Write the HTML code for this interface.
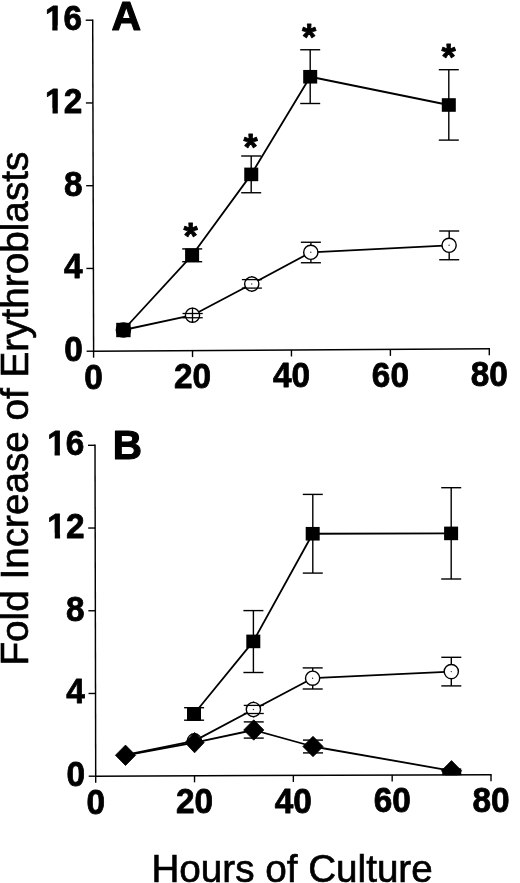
<!DOCTYPE html>
<html lang="en"><head><meta charset="utf-8"><title>Fold Increase of Erythroblasts vs Hours of Culture</title>
<style>html,body{margin:0;padding:0;background:#fff;}body{width:520px;height:883px;overflow:hidden;}svg{display:block;}text{font-family:'Liberation Sans', Arial, Helvetica, sans-serif;fill:#000;}.b{font-weight:bold;stroke:#000;stroke-width:0.8px;stroke-linejoin:round;}</style></head><body>
<svg width="520" height="883" viewBox="0 0 520 883">
<rect width="520" height="883" fill="#fff"/>
<line x1="92.70" y1="19.50" x2="93.60" y2="351.90" stroke="#000" stroke-width="1.45" />
<line x1="92.90" y1="351.20" x2="490.00" y2="348.80" stroke="#000" stroke-width="1.45" />
<line x1="86.60" y1="351.20" x2="93.60" y2="351.20" stroke="#000" stroke-width="1.40" />
<line x1="86.38" y1="268.45" x2="93.38" y2="268.45" stroke="#000" stroke-width="1.40" />
<line x1="86.15" y1="185.70" x2="93.15" y2="185.70" stroke="#000" stroke-width="1.40" />
<line x1="85.92" y1="102.95" x2="92.92" y2="102.95" stroke="#000" stroke-width="1.40" />
<line x1="85.70" y1="20.20" x2="92.70" y2="20.20" stroke="#000" stroke-width="1.40" />
<line x1="93.60" y1="351.20" x2="93.60" y2="357.70" stroke="#000" stroke-width="1.40" />
<line x1="192.53" y1="350.60" x2="192.53" y2="357.10" stroke="#000" stroke-width="1.40" />
<line x1="291.45" y1="350.00" x2="291.45" y2="356.50" stroke="#000" stroke-width="1.40" />
<line x1="390.38" y1="349.40" x2="390.38" y2="355.90" stroke="#000" stroke-width="1.40" />
<line x1="489.30" y1="348.80" x2="489.30" y2="355.30" stroke="#000" stroke-width="1.40" />
<text class="b" transform="translate(82.90,361.20) scale(0.970,1)" font-size="34.4" text-anchor="end">0</text>
<text class="b" transform="translate(82.67,278.45) scale(0.970,1)" font-size="34.4" text-anchor="end">4</text>
<text class="b" transform="translate(82.45,195.70) scale(0.970,1)" font-size="34.4" text-anchor="end">8</text>
<text class="b" transform="translate(82.22,112.95) scale(0.970,1)" font-size="34.4" text-anchor="end">12</text>
<rect x="45.44" y="108.23" width="7.07" height="6.72" fill="#fff"/>
<rect x="57.82" y="108.23" width="6.34" height="6.72" fill="#fff"/>
<text class="b" transform="translate(82.00,30.20) scale(0.970,1)" font-size="34.4" text-anchor="end">16</text>
<rect x="45.22" y="25.48" width="7.07" height="6.72" fill="#fff"/>
<rect x="57.59" y="25.48" width="6.34" height="6.72" fill="#fff"/>
<text class="b" transform="translate(93.60,388.60) scale(0.970,1)" font-size="34.4" text-anchor="middle">0</text>
<text class="b" transform="translate(192.53,388.00) scale(0.970,1)" font-size="34.4" text-anchor="middle">20</text>
<text class="b" transform="translate(291.45,387.40) scale(0.970,1)" font-size="34.4" text-anchor="middle">40</text>
<text class="b" transform="translate(390.38,386.80) scale(0.970,1)" font-size="34.4" text-anchor="middle">60</text>
<text class="b" transform="translate(489.30,386.20) scale(0.970,1)" font-size="34.4" text-anchor="middle">80</text>
<text class="b" x="111.5" y="30.3" font-size="41" style="stroke-width:1.1px">A</text>
<polyline points="123.40,330.00 192.10,255.30 251.25,174.40 310.20,76.75 448.80,105.00" fill="none" stroke="#000" stroke-width="1.80" stroke-linejoin="round"/>
<polyline points="123.40,330.00 192.50,315.20 251.75,284.00 310.80,252.30 449.10,245.30" fill="none" stroke="#000" stroke-width="1.80" stroke-linejoin="round"/>
<line x1="182.20" y1="248.90" x2="202.20" y2="248.90" stroke="#000" stroke-width="1.40" />
<line x1="182.20" y1="261.70" x2="202.20" y2="261.70" stroke="#000" stroke-width="1.40" />
<line x1="251.20" y1="156.00" x2="251.20" y2="192.75" stroke="#000" stroke-width="1.40" />
<line x1="241.20" y1="156.00" x2="261.20" y2="156.00" stroke="#000" stroke-width="1.40" />
<line x1="241.20" y1="192.75" x2="261.20" y2="192.75" stroke="#000" stroke-width="1.40" />
<line x1="310.20" y1="49.75" x2="310.20" y2="103.50" stroke="#000" stroke-width="1.40" />
<line x1="300.20" y1="49.75" x2="320.20" y2="49.75" stroke="#000" stroke-width="1.40" />
<line x1="300.20" y1="103.50" x2="320.20" y2="103.50" stroke="#000" stroke-width="1.40" />
<line x1="448.80" y1="69.70" x2="448.80" y2="140.10" stroke="#000" stroke-width="1.40" />
<line x1="438.80" y1="69.70" x2="458.80" y2="69.70" stroke="#000" stroke-width="1.40" />
<line x1="438.80" y1="140.10" x2="458.80" y2="140.10" stroke="#000" stroke-width="1.40" />
<rect x="185.10" y="248.50" width="14.00" height="13.60" fill="#000"/>
<rect x="244.25" y="167.60" width="14.00" height="13.60" fill="#000"/>
<rect x="303.20" y="69.95" width="14.00" height="13.60" fill="#000"/>
<rect x="441.80" y="98.20" width="14.00" height="13.60" fill="#000"/>
<rect x="116.20" y="322.80" width="14.40" height="14.40" fill="#000"/>
<circle cx="123.4" cy="330.0" r="7.8" fill="#000"/>
<line x1="310.90" y1="242.25" x2="310.90" y2="262.75" stroke="#000" stroke-width="1.40" />
<line x1="300.90" y1="242.25" x2="320.90" y2="242.25" stroke="#000" stroke-width="1.40" />
<line x1="300.90" y1="262.75" x2="320.90" y2="262.75" stroke="#000" stroke-width="1.40" />
<line x1="449.20" y1="231.00" x2="449.20" y2="259.75" stroke="#000" stroke-width="1.40" />
<line x1="439.20" y1="231.00" x2="459.20" y2="231.00" stroke="#000" stroke-width="1.40" />
<line x1="439.20" y1="259.75" x2="459.20" y2="259.75" stroke="#000" stroke-width="1.40" />
<line x1="251.75" y1="276.00" x2="251.75" y2="292.00" stroke="#000" stroke-width="1.40" />
<circle cx="192.50" cy="315.20" r="7.10" fill="#fff" stroke="#000" stroke-width="1.4"/>
<circle cx="192.50" cy="315.20" r="0.7" fill="#333"/>
<circle cx="251.75" cy="284.00" r="7.10" fill="#fff" stroke="#000" stroke-width="1.4"/>
<circle cx="251.75" cy="284.00" r="0.7" fill="#333"/>
<circle cx="310.80" cy="252.30" r="7.10" fill="#fff" stroke="#000" stroke-width="1.4"/>
<circle cx="310.80" cy="252.30" r="0.7" fill="#333"/>
<circle cx="449.10" cy="245.30" r="7.10" fill="#fff" stroke="#000" stroke-width="1.4"/>
<circle cx="449.10" cy="245.30" r="0.7" fill="#333"/>
<line x1="182.50" y1="313.50" x2="202.75" y2="313.50" stroke="#000" stroke-width="1.30" />
<line x1="182.50" y1="317.75" x2="202.75" y2="317.75" stroke="#000" stroke-width="1.30" />
<line x1="192.50" y1="307.60" x2="192.50" y2="322.80" stroke="#000" stroke-width="1.30" />
<line x1="241.90" y1="279.60" x2="261.90" y2="279.60" stroke="#000" stroke-width="1.30" />
<line x1="241.90" y1="288.10" x2="261.90" y2="288.10" stroke="#000" stroke-width="1.30" />
<text class="b" x="190.65" y="248.90" font-size="36.5" text-anchor="middle">*</text>
<text class="b" x="250.70" y="159.90" font-size="36.5" text-anchor="middle">*</text>
<text class="b" x="309.00" y="50.30" font-size="36.5" text-anchor="middle">*</text>
<text class="b" x="448.60" y="69.90" font-size="36.5" text-anchor="middle">*</text>
<line x1="95.00" y1="444.60" x2="95.70" y2="776.90" stroke="#000" stroke-width="1.45" />
<line x1="95.00" y1="776.20" x2="491.70" y2="774.70" stroke="#000" stroke-width="1.45" />
<line x1="88.70" y1="776.20" x2="95.70" y2="776.20" stroke="#000" stroke-width="1.40" />
<line x1="88.53" y1="693.48" x2="95.53" y2="693.48" stroke="#000" stroke-width="1.40" />
<line x1="88.35" y1="610.75" x2="95.35" y2="610.75" stroke="#000" stroke-width="1.40" />
<line x1="88.17" y1="528.03" x2="95.17" y2="528.03" stroke="#000" stroke-width="1.40" />
<line x1="88.00" y1="445.30" x2="95.00" y2="445.30" stroke="#000" stroke-width="1.40" />
<line x1="95.70" y1="776.20" x2="95.70" y2="782.70" stroke="#000" stroke-width="1.40" />
<line x1="194.53" y1="775.83" x2="194.53" y2="782.33" stroke="#000" stroke-width="1.40" />
<line x1="293.35" y1="775.45" x2="293.35" y2="781.95" stroke="#000" stroke-width="1.40" />
<line x1="392.18" y1="775.08" x2="392.18" y2="781.58" stroke="#000" stroke-width="1.40" />
<line x1="491.00" y1="774.70" x2="491.00" y2="781.20" stroke="#000" stroke-width="1.40" />
<text class="b" transform="translate(85.00,786.20) scale(0.970,1)" font-size="34.4" text-anchor="end">0</text>
<text class="b" transform="translate(84.83,703.48) scale(0.970,1)" font-size="34.4" text-anchor="end">4</text>
<text class="b" transform="translate(84.65,620.75) scale(0.970,1)" font-size="34.4" text-anchor="end">8</text>
<text class="b" transform="translate(84.47,538.03) scale(0.970,1)" font-size="34.4" text-anchor="end">12</text>
<rect x="47.69" y="533.31" width="7.07" height="6.72" fill="#fff"/>
<rect x="60.07" y="533.31" width="6.34" height="6.72" fill="#fff"/>
<text class="b" transform="translate(84.30,455.30) scale(0.970,1)" font-size="34.4" text-anchor="end">16</text>
<rect x="47.52" y="450.58" width="7.07" height="6.72" fill="#fff"/>
<rect x="59.89" y="450.58" width="6.34" height="6.72" fill="#fff"/>
<text class="b" transform="translate(95.70,813.60) scale(0.970,1)" font-size="34.4" text-anchor="middle">0</text>
<text class="b" transform="translate(194.53,813.23) scale(0.970,1)" font-size="34.4" text-anchor="middle">20</text>
<text class="b" transform="translate(293.35,812.85) scale(0.970,1)" font-size="34.4" text-anchor="middle">40</text>
<text class="b" transform="translate(392.18,812.48) scale(0.970,1)" font-size="34.4" text-anchor="middle">60</text>
<text class="b" transform="translate(491.00,812.10) scale(0.970,1)" font-size="34.4" text-anchor="middle">80</text>
<text class="b" x="112.7" y="458.7" font-size="40.5" style="stroke-width:1.1px">B</text>
<polyline points="194.00,714.00 253.30,641.40 312.70,533.75 451.10,533.40" fill="none" stroke="#000" stroke-width="1.80" stroke-linejoin="round"/>
<polyline points="125.50,755.00 194.40,740.90 253.40,709.50 312.60,678.20 451.30,671.60" fill="none" stroke="#000" stroke-width="1.80" stroke-linejoin="round"/>
<polyline points="125.50,755.30 194.60,742.60 253.75,730.00 313.00,746.50 451.80,770.80" fill="none" stroke="#000" stroke-width="1.80" stroke-linejoin="round"/>
<line x1="184.10" y1="707.70" x2="204.10" y2="707.70" stroke="#000" stroke-width="1.40" />
<line x1="184.10" y1="720.20" x2="204.10" y2="720.20" stroke="#000" stroke-width="1.40" />
<line x1="253.40" y1="610.60" x2="253.40" y2="672.50" stroke="#000" stroke-width="1.40" />
<line x1="243.40" y1="610.60" x2="263.40" y2="610.60" stroke="#000" stroke-width="1.40" />
<line x1="243.40" y1="672.50" x2="263.40" y2="672.50" stroke="#000" stroke-width="1.40" />
<line x1="312.80" y1="494.40" x2="312.80" y2="573.10" stroke="#000" stroke-width="1.40" />
<line x1="302.80" y1="494.40" x2="322.80" y2="494.40" stroke="#000" stroke-width="1.40" />
<line x1="302.80" y1="573.10" x2="322.80" y2="573.10" stroke="#000" stroke-width="1.40" />
<line x1="451.20" y1="487.70" x2="451.20" y2="579.00" stroke="#000" stroke-width="1.40" />
<line x1="441.20" y1="487.70" x2="461.20" y2="487.70" stroke="#000" stroke-width="1.40" />
<line x1="441.20" y1="579.00" x2="461.20" y2="579.00" stroke="#000" stroke-width="1.40" />
<rect x="187.00" y="707.20" width="14.00" height="13.60" fill="#000"/>
<rect x="246.30" y="634.60" width="14.00" height="13.60" fill="#000"/>
<rect x="305.70" y="526.95" width="14.00" height="13.60" fill="#000"/>
<rect x="444.10" y="526.60" width="14.00" height="13.60" fill="#000"/>
<line x1="312.70" y1="667.90" x2="312.70" y2="689.00" stroke="#000" stroke-width="1.40" />
<line x1="302.70" y1="667.90" x2="322.70" y2="667.90" stroke="#000" stroke-width="1.40" />
<line x1="302.70" y1="689.00" x2="322.70" y2="689.00" stroke="#000" stroke-width="1.40" />
<line x1="451.30" y1="657.30" x2="451.30" y2="685.90" stroke="#000" stroke-width="1.40" />
<line x1="441.30" y1="657.30" x2="461.30" y2="657.30" stroke="#000" stroke-width="1.40" />
<line x1="441.30" y1="685.90" x2="461.30" y2="685.90" stroke="#000" stroke-width="1.40" />
<line x1="253.40" y1="701.50" x2="253.40" y2="717.50" stroke="#000" stroke-width="1.40" />
<circle cx="194.40" cy="740.90" r="7.10" fill="#fff" stroke="#000" stroke-width="1.4"/>
<circle cx="253.40" cy="709.50" r="7.10" fill="#fff" stroke="#000" stroke-width="1.4"/>
<circle cx="253.40" cy="709.50" r="0.7" fill="#333"/>
<circle cx="312.60" cy="678.20" r="7.10" fill="#fff" stroke="#000" stroke-width="1.4"/>
<circle cx="312.60" cy="678.20" r="0.7" fill="#333"/>
<circle cx="451.30" cy="671.60" r="7.10" fill="#fff" stroke="#000" stroke-width="1.4"/>
<circle cx="451.30" cy="671.60" r="0.7" fill="#333"/>
<line x1="243.75" y1="705.40" x2="263.75" y2="705.40" stroke="#000" stroke-width="1.30" />
<line x1="243.75" y1="713.50" x2="263.75" y2="713.50" stroke="#000" stroke-width="1.30" />
<line x1="243.75" y1="721.90" x2="263.75" y2="721.90" stroke="#000" stroke-width="1.40" />
<line x1="243.75" y1="738.10" x2="263.75" y2="738.10" stroke="#000" stroke-width="1.40" />
<line x1="303.00" y1="740.10" x2="323.00" y2="740.10" stroke="#000" stroke-width="1.40" />
<line x1="303.00" y1="752.90" x2="323.00" y2="752.90" stroke="#000" stroke-width="1.40" />
<polygon points="125.50,745.10 135.60,755.30 125.50,765.50 115.40,755.30" fill="#000" stroke="#000" stroke-width="0.8" stroke-linejoin="round"/>
<polygon points="194.60,732.40 204.20,742.60 194.60,752.80 185.00,742.60" fill="#000" stroke="#000" stroke-width="0.8" stroke-linejoin="round"/>
<polygon points="253.75,719.80 263.85,730.00 253.75,740.20 243.65,730.00" fill="#000" stroke="#000" stroke-width="0.8" stroke-linejoin="round"/>
<polygon points="313.00,736.30 323.10,746.50 313.00,756.70 302.90,746.50" fill="#000" stroke="#000" stroke-width="0.8" stroke-linejoin="round"/>
<clipPath id="cl"><rect x="430" y="740" width="50" height="35.2"/></clipPath>
<g clip-path="url(#cl)">
<polygon points="451.50,760.60 461.60,770.80 451.50,781.00 441.40,770.80" fill="#000" stroke="#000" stroke-width="0.8" stroke-linejoin="round"/>
<rect x="442.25" y="768.4" width="19" height="8" fill="#000"/>
</g>
<text transform="translate(28.3,665.6) rotate(-90)" font-size="38.7" stroke="#000" stroke-width="0.65">Fold Increase of Erythroblasts</text>
<text x="151.4" y="882.4" font-size="38.65" stroke="#000" stroke-width="0.65">Hours of Culture</text>
</svg></body></html>
